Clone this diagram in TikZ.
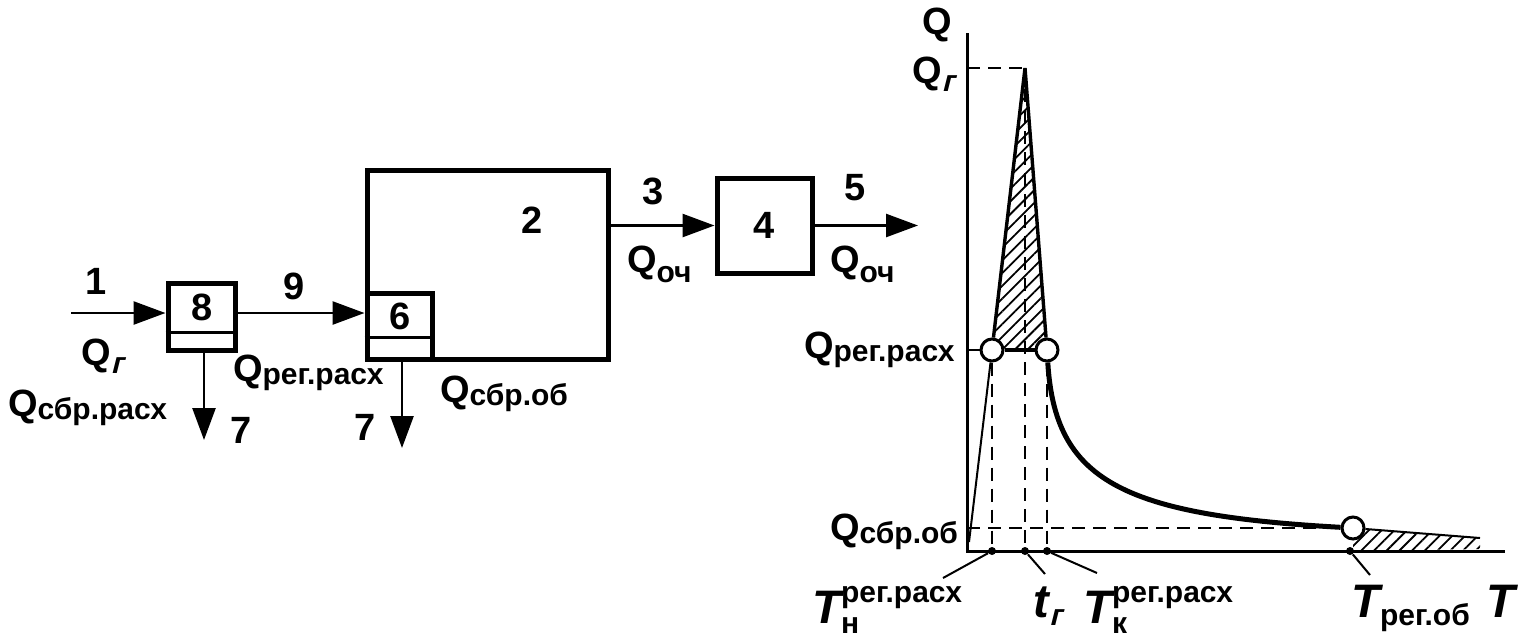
\documentclass[tikz,border=0pt]{standalone}
\usepackage{fontspec}
\setmainfont{Liberation Sans}
\newfontfamily\oblfont[FakeSlant=0.25]{Liberation Sans}
\usetikzlibrary{arrows.meta,patterns.meta,backgrounds}

\newcommand{\lblfont}{\fontsize{19}{19}\selectfont\bfseries}
\newcommand{\idxfont}{\fontsize{15}{15}\selectfont\bfseries}
\newcommand{\Tfont}{\fontsize{23.5}{23.5}\selectfont\bfseries\itshape}
\newcommand{\Qsub}[2][1.5pt]{Q\raisebox{-#1}{\idxfont #2}}
\newcommand{\Tsubsup}[2]{{\Tfont T}\rlap{\raisebox{-5pt}{\idxfont #2}}\raisebox{10.5pt}{\idxfont #1}}

\tikzset{
  blk/.style={draw, line width=2.5pt, inner sep=0pt},
  arr/.style={line width=1.3pt, -{Triangle[length=16pt,width=11.5pt]}},
  dash line/.style={line width=1pt, dash pattern=on 6.5pt off 4pt},
  knot/.style={circle, draw, fill=white, line width=1.5pt, inner sep=0pt, minimum size=11pt},
  axdot/.style={circle, fill=black, inner sep=0pt, minimum size=4pt},
  hatch/.style={pattern={Lines[angle=45,distance=4.5pt,line width=0.9pt]}}
}

\begin{document}
\begin{tikzpicture}[x=0.5pt,y=-0.5pt,font=\lblfont]
  \useasboundingbox (0,0) rectangle (1519,639);

  % 方框
  \node[blk, minimum width=33.5pt, minimum height=33.5pt] (box8) at (201.5,316.5) {};
  \node[blk, minimum width=120.5pt, minimum height=94.5pt] (box2) at (487.5,264.5) {};
  \node[blk, minimum width=32.5pt, minimum height=33pt] (box6) at (399.5,326) {};
  \node[blk, minimum width=47.5pt, minimum height=47.5pt] (box4) at (764.5,225.5) {4};
  \draw[line width=1.5pt] (box8.south west) ++(0,-20) -- ++(67,0);
  \draw[line width=1.5pt] (box6.south west) ++(0,-24) -- ++(65,0);
  \node (n8) at (202,307) {8};
  \node (n6) at (400,316) {6};
  \node (n2) at (532,220) {2};

  % 箭头
  \coordinate (in1) at (71,313);
  \draw[arr] (in1) -- (in1 -| box8.west);
  \draw[arr] (in1 -| box8.east) -- (in1 -| box6.west);
  \coordinate (out8) at (204,440);
  \draw[arr] (out8 |- box8.south) -- (out8);
  \coordinate (out6) at (402,448);
  \draw[arr] (out6 |- box2.south) -- (out6);
  \draw[arr] (box2.east |- box4.west) -- (box4.west);
  \coordinate (out5) at (918,225.5);
  \draw[arr] (box4.east) -- (out5);

  % 标注
  \node (l1) at (96,281) {1};
  \node[anchor=base west] (lQg) at (74,365) {\Qsub[4pt]{\oblfont\bfseries г}};
  \node[anchor=base west] (lQsr) at (1,416) {\Qsub{сбр.расх}};
  \node (l7a) at (241,430) {7};
  \node (l9) at (294,286) {9};
  \node[anchor=base west] (lQrr) at (226,381) {\Qsub{рег.расх}};
  \node (l7b) at (365,427) {7};
  \node[anchor=base west] (lQso) at (433,402) {\Qsub{сбр.об}};
  \node (l3) at (653,191) {3};
  \node[anchor=base west] (lQo1) at (620,272) {\Qsub[5pt]{оч}};
  \node (l5) at (855,188) {5};
  \node[anchor=base west] (lQo2) at (823,272) {\Qsub[5pt]{оч}};

  % 坐标轴
  \coordinate (O) at (967,551);
  \coordinate (ytop) at (967,33);
  \coordinate (xend) at (1505,551);
  \coordinate (P) at (1025,68);
  \coordinate (s0) at (969,542);
  \node[knot] (cL) at (992,350) {};
  \node[knot] (cR) at (1047,350) {};
  \node[knot] (cB) at (1353,528) {};

  \begin{scope}[on background layer]
    % 阴影
    \fill[hatch] (cL.center) -- (P) -- (cR.center) -- cycle;
    \fill[hatch] (cB.center) -- (1480,538) -- (1480,549) -- (cB |- O) -- cycle;
    % 虚线
    \draw[dash line] (ytop |- P) -- (P);
    \draw[dash line] (P) -- (P |- O);
    \draw[dash line] (cL) -- (cL |- O);
    \draw[dash line] (cR) -- (cR |- O);
    \draw[dash line] (O |- cB) -- (cB);
  \end{scope}

  \draw[line width=1.5pt] (ytop) -- (O) -- (xend);
  \draw[line width=1.7pt] (cL) -- (P) -- (cR);
  \draw[line width=2pt] (cL) -- (cR);
  \draw[line width=1pt] (O |- cL) -- (cL);
  \draw[line width=1pt] (s0) -- (cL);
  \draw[line width=2.5pt] (cR) .. controls (1055,480) and (1120,515) .. (cB);
  \draw[line width=1pt] (cB) -- (1480,538);

  % 横轴上的点
  \node[axdot] (dN) at (cL |- O) {};
  \node[axdot] (dR) at (P |- O) {};
  \node[axdot] (dK) at (cR |- O) {};
  \node[axdot] (dB) at (1350,551) {};
  \coordinate (eN) at (943,578);
  \coordinate (eR) at (1045,574);
  \coordinate (eK) at (1097,573);
  \coordinate (eB) at (1370,575);
  \draw[line width=1pt] (dN) -- (eN);
  \draw[line width=1pt] (dR) -- (eR);
  \draw[line width=1pt] (dK) -- (eK);
  \draw[line width=1pt] (dB) -- (eB);

  % 图上的标注
  \node[anchor=base] (lQ) at (937,34) {Q};
  \node[anchor=base west] (lQr) at (905,83) {\Qsub[4pt]{\oblfont\bfseries г}};
  \node[anchor=base west] (lQrr2) at (797,358) {\Qsub{рег.расх}};
  \node[anchor=base west] (lQso2) at (823,540) {\Qsub{сбр.об}};
  \node[anchor=base west, inner sep=0pt] (tN) at (812,623) {\Tsubsup{рег.расх}{н}};
  \node[anchor=base west, inner sep=0pt] (tR) at (1033,617) {{\Tfont t}\raisebox{-4pt}{\idxfont\oblfont\bfseries г}};
  \node[anchor=base west, inner sep=0pt] (tK) at (1083,623) {\Tsubsup{рег.расх}{к}};
  \node[anchor=base west, inner sep=0pt] (tB) at (1351,617) {{\Tfont T}\raisebox{-4pt}{\idxfont рег.об}};
  \node[anchor=base west, inner sep=0pt] (tT) at (1486,617) {\Tfont T};

\end{tikzpicture}
\end{document}
